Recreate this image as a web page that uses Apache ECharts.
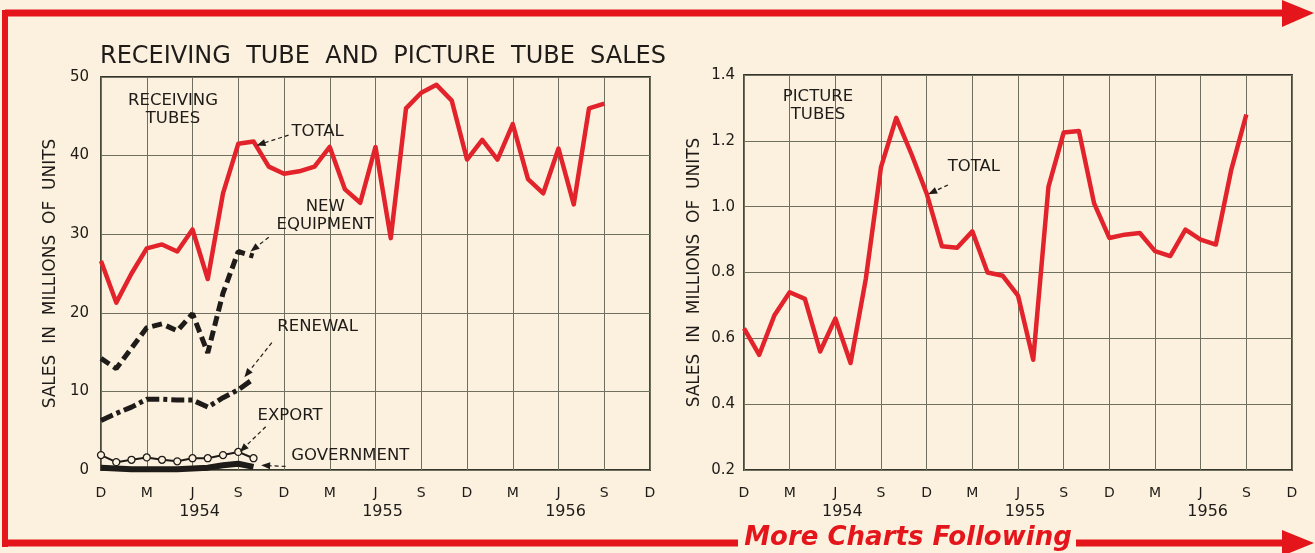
<!DOCTYPE html>
<html>
<head>
<meta charset="utf-8">
<script src="https://cdn.jsdelivr.net/npm/echarts@6/dist/echarts.min.js"></script>
<style>
html,body{margin:0;padding:0;background:#fbf1de;}
#chart{width:1315px;height:553px;}
</style>
</head>
<body>
<div id="chart"></div>
<script>
// ---- categories (monthly, Dec 1953 .. Dec 1956) ----
const months = ['Dec 1953','Jan 1954','Feb 1954','Mar 1954','Apr 1954','May 1954','Jun 1954','Jul 1954','Aug 1954','Sep 1954','Oct 1954','Nov 1954',
  'Dec 1954','Jan 1955','Feb 1955','Mar 1955','Apr 1955','May 1955','Jun 1955','Jul 1955','Aug 1955','Sep 1955','Oct 1955','Nov 1955',
  'Dec 1955','Jan 1956','Feb 1956','Mar 1956','Apr 1956','May 1956','Jun 1956','Jul 1956','Aug 1956','Sep 1956','Oct 1956','Nov 1956','Dec 1956'];
const tickLabels = ['D','M','J','S','D','M','J','S','D','M','J','S','D'];
const yearLabels = ['1954','1955','1956'];

// ---- receiving tubes (millions of units) ----
const receivingTotal = [26.6,21.3,25.0,28.2,28.7,27.8,30.6,24.3,35.2,41.5,41.8,38.6,37.7,38.0,38.6,41.1,35.7,34.0,41.1,29.5,46.0,48.0,49.0,47.0,39.5,42.0,39.5,44.0,37.0,35.2,40.9,33.8,46.0,46.6];
const newEquipment = [14.2,12.9,15.5,18.1,18.6,17.7,19.9,14.9,22.5,27.8,27.2];
const renewal = [6.3,7.2,8.0,9.0,9.0,8.9,8.9,8.0,9.2,10.2,11.6];
const exportSales = [1.9,1.0,1.3,1.6,1.3,1.1,1.5,1.5,1.9,2.3,1.5];
const government = [0.3,0.2,0.1,0.1,0.1,0.1,0.2,0.3,0.6,0.8,0.4];

// ---- picture tubes (millions of units) ----
const pictureTotal = [0.63,0.55,0.67,0.74,0.72,0.56,0.66,0.525,0.78,1.12,1.27,1.16,1.04,0.88,0.875,0.925,0.80,0.79,0.73,0.535,1.06,1.225,1.23,1.01,0.905,0.915,0.92,0.865,0.85,0.93,0.90,0.885,1.11,1.28];

// ---- annotations (data coordinates: [month index, value]) ----
const annotations = [
  {grid:0, text:'RECEIVING\nTUBES', at:[4.72,45.9]},
  {grid:0, text:'TOTAL', at:[14.2,43.1], from:[12.3,42.6], to:[10.2,41.3]},
  {grid:0, text:'NEW\nEQUIPMENT', at:[14.7,32.4], from:[11.0,29.6], to:[9.8,27.8]},
  {grid:0, text:'RENEWAL', at:[14.2,18.2], from:[11.2,16.2], to:[9.4,11.8]},
  {grid:0, text:'EXPORT', at:[12.4,6.9], from:[10.8,5.5], to:[9.1,2.3]},
  {grid:0, text:'GOVERNMENT', at:[16.35,1.8], from:[12.1,0.45], to:[10.5,0.6]},
  {grid:1, text:'PICTURE\nTUBES', at:[4.86,1.306]},
  {grid:1, text:'TOTAL', at:[15.1,1.121], from:[13.4,1.066], to:[12.1,1.038]}
];

const RED = '#e3232b';
const INK = '#1e1b18';
const GRIDC = '#6f6f60';
const FONT = 'DejaVu Sans';

function xLabel(value, index) {
  if (index % 3 !== 0) return '';
  const k = index / 3;
  const lab = tickLabels[k];
  if (k === 2 || k === 6 || k === 10) {
    return lab + '\n{yr|' + yearLabels[(k - 2) / 4] + '}';
  }
  return lab;
}

function xAxis(gi) {
  return {
    type:'category', gridIndex:gi, data:months, boundaryGap:false,
    axisLine:{show:false}, axisTick:{show:false},
    axisLabel:{interval:0, formatter:xLabel, color:INK, fontFamily:FONT, fontSize:14, margin:15, lineHeight:16,
      rich:{yr:{fontFamily:FONT, fontSize:16, color:INK, lineHeight:20, padding:[2,0,0,14]}}},
    splitLine:{show:true, interval:function(i){return i % 3 === 0;}, lineStyle:{color:GRIDC, width:1}}
  };
}

const option = {
  backgroundColor:'#fbf1de',
  animation:false,
  title:{text:'RECEIVING  TUBE  AND  PICTURE  TUBE  SALES', left:95, top:40,
    textStyle:{fontFamily:FONT, fontWeight:'normal', fontSize:24, color:INK}},
  grid:[
    {left:101, top:77, width:549, height:393, show:true, borderColor:'#35352c', borderWidth:1.8, backgroundColor:'transparent'},
    {left:744, top:75, width:548, height:395, show:true, borderColor:'#35352c', borderWidth:1.8, backgroundColor:'transparent'}
  ],
  xAxis:[xAxis(0), xAxis(1)],
  yAxis:[
    {type:'value', gridIndex:0, min:0, max:50, interval:10,
      name:'SALES  IN  MILLIONS  OF  UNITS', nameLocation:'middle', nameGap:42,
      nameTextStyle:{fontFamily:FONT, fontSize:17, color:INK},
      axisLine:{show:false}, axisTick:{show:false},
      axisLabel:{color:INK, fontFamily:FONT, fontSize:15, margin:12},
      splitLine:{lineStyle:{color:GRIDC, width:1}}},
    {type:'value', gridIndex:1, min:0.2, max:1.4, interval:0.2,
      name:'SALES  IN  MILLIONS  OF  UNITS', nameLocation:'middle', nameGap:41,
      nameTextStyle:{fontFamily:FONT, fontSize:17, color:INK},
      axisLine:{show:false}, axisTick:{show:false},
      axisLabel:{color:INK, fontFamily:FONT, fontSize:15, margin:9, formatter:function(v){return v.toFixed(1);}},
      splitLine:{lineStyle:{color:GRIDC, width:1}}}
  ],
  series:[
    {name:'Receiving Total', type:'line', xAxisIndex:0, yAxisIndex:0, data:receivingTotal, showSymbol:false,
      lineStyle:{color:RED, width:4.5, join:'round'}, z:5},
    {name:'New Equipment', type:'line', xAxisIndex:0, yAxisIndex:0, data:newEquipment, showSymbol:false,
      lineStyle:{color:INK, width:5, type:[10,5]}, z:4},
    {name:'Renewal', type:'line', xAxisIndex:0, yAxisIndex:0, data:renewal, showSymbol:false,
      lineStyle:{color:INK, width:5, type:[13,4,4,4]}, z:4},
    {name:'Export', type:'line', xAxisIndex:0, yAxisIndex:0, data:exportSales, symbol:'circle', symbolSize:7, showSymbol:true,
      itemStyle:{color:'#fbf1de', borderColor:INK, borderWidth:1.3},
      lineStyle:{color:INK, width:2}, z:4},
    {name:'Government', type:'line', xAxisIndex:0, yAxisIndex:0, data:government, showSymbol:false,
      lineStyle:{color:INK, width:6}, z:3},
    {name:'Picture Total', type:'line', xAxisIndex:1, yAxisIndex:1, data:pictureTotal, showSymbol:false,
      lineStyle:{color:RED, width:4.5, join:'round'}, z:5}
  ]
};

const chart = echarts.init(document.getElementById('chart'), null, {renderer:'canvas'});
chart.setOption(option);

// ---- annotation texts/arrows + frame decoration ----
function mapper(gi) {
  const ya = option.yAxis[gi];
  const p0 = chart.convertToPixel({gridIndex:gi}, [0, ya.min]);
  const p1 = chart.convertToPixel({gridIndex:gi}, [months.length - 1, ya.max]);
  return function(d) {
    return [p0[0] + (p1[0]-p0[0]) * d[0] / (months.length - 1),
            p0[1] + (p1[1]-p0[1]) * (d[1]-ya.min) / (ya.max-ya.min)];
  };
}
const maps = [mapper(0), mapper(1)];
const g = [];
annotations.forEach(function(a) {
  const m = maps[a.grid];
  const c = m(a.at);
  g.push({type:'text', x:c[0], y:c[1], z:20,
    style:{text:a.text, fill:INK, font:'16.5px "' + FONT + '"', align:'center', verticalAlign:'middle', lineHeight:18}});
  if (a.from) {
    const p = m(a.from), q = m(a.to);
    const dx = q[0]-p[0], dy = q[1]-p[1], L = Math.sqrt(dx*dx+dy*dy);
    const ux = dx/L, uy = dy/L, hl = 9, hw = 3.5;
    const bx = q[0]-ux*hl, by = q[1]-uy*hl;
    g.push({type:'line', z:20, shape:{x1:p[0], y1:p[1], x2:bx, y2:by},
      style:{stroke:INK, lineWidth:1.2, lineDash:[4,3]}});
    g.push({type:'polygon', z:20, shape:{points:[[q[0],q[1]],[bx-uy*hw,by+ux*hw],[bx+uy*hw,by-ux*hw]]},
      style:{fill:INK}});
  }
});
// red frame with arrows
const FR = '#e5161b';
g.push({type:'line', z:30, shape:{x1:5, y1:13, x2:1290, y2:13}, style:{stroke:FR, lineWidth:7}});
g.push({type:'polygon', z:30, shape:{points:[[1282,0],[1314,13],[1282,27]]}, style:{fill:FR}});
g.push({type:'line', z:30, shape:{x1:5, y1:10, x2:5, y2:547}, style:{stroke:FR, lineWidth:6}});
g.push({type:'line', z:30, shape:{x1:2, y1:543, x2:738, y2:543}, style:{stroke:FR, lineWidth:7}});
g.push({type:'line', z:30, shape:{x1:1076, y1:543, x2:1290, y2:543}, style:{stroke:FR, lineWidth:7}});
g.push({type:'polygon', z:30, shape:{points:[[1282,530],[1314,543],[1282,556]]}, style:{fill:FR}});
g.push({type:'text', z:30, x:908, y:538,
  style:{text:'More Charts Following', fill:FR, font:'italic bold 26px "DejaVu Sans"', align:'center', verticalAlign:'middle'}});
chart.setOption({graphic:g});
</script>
</body>
</html>
